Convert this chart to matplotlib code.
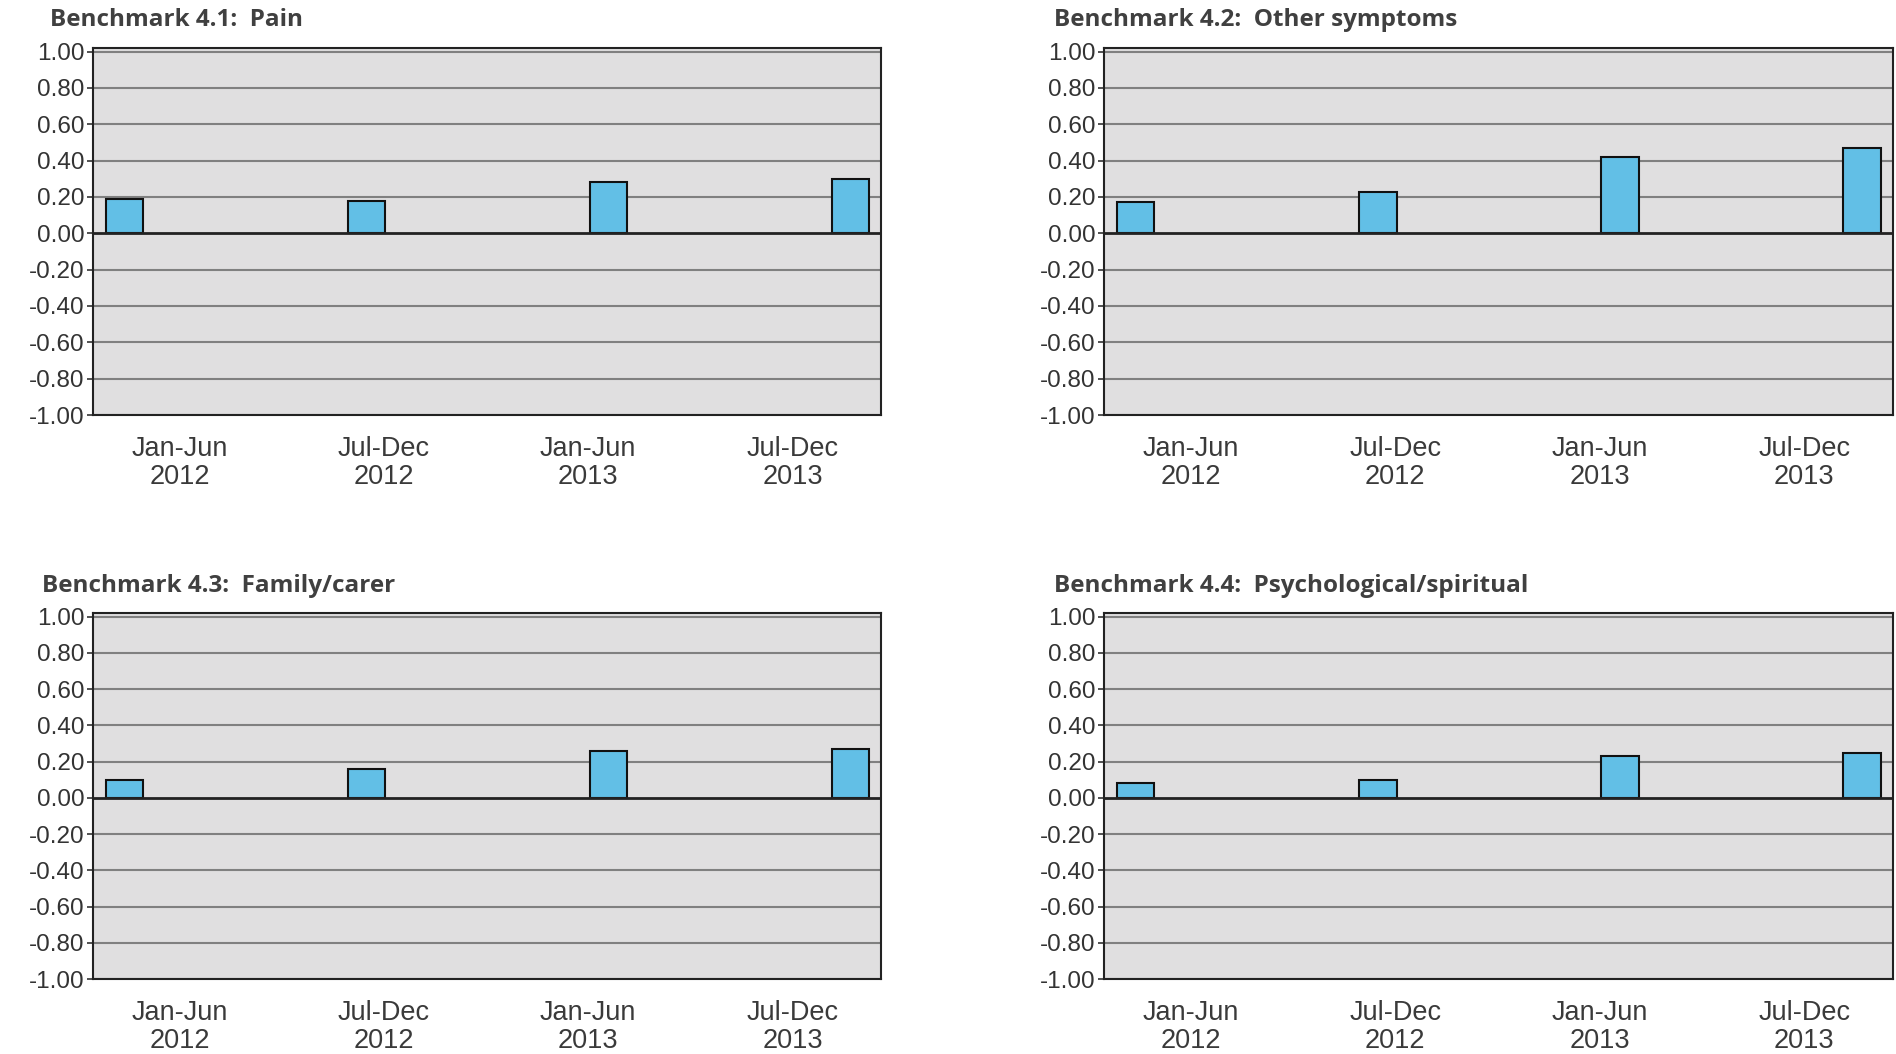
import numpy as np
import matplotlib.pyplot as plt

# periods on the x axis
periods = ["Jan-Jun\n2012", "Jul-Dec\n2012", "Jan-Jun\n2013", "Jul-Dec\n2013"]

titles = [
    "Benchmark 4.1:  Pain",
    "Benchmark 4.2:  Other symptoms",
    "Benchmark 4.3:  Family/carer",
    "Benchmark 4.4:  Psychological/spiritual",
]

# values
pain = [0.19, 0.18, 0.28, 0.30]
other_symptoms = [0.17, 0.23, 0.42, 0.47]
family_carer = [0.10, 0.16, 0.26, 0.27]
psych_spiritual = [0.08, 0.10, 0.23, 0.25]

series = [pain, other_symptoms, family_carer, psych_spiritual]

yticks = np.arange(-1.0, 1.01, 0.2)

W, H = 1896, 1054
fig = plt.figure(figsize=(W / 100, H / 100), dpi=100)

# axes boxes in pixels: left, top, right, bottom
boxes = [
    (93, 48, 881, 415),
    (1104, 48, 1893, 415),
    (93, 613, 881, 979),
    (1104, 613, 1893, 979),
]
title_pos = [(50, 20), (1054, 20), (42, 586), (1054, 586)]

tick_font = ["Liberation Sans", "DejaVu Sans"]

bar_x = 0.16 + 1.228 * np.arange(len(periods))
label_x = 0.44 + 1.037 * np.arange(len(periods))

for i in range(4):
    l, t, r, b = boxes[i]
    ax = fig.add_axes([l / W, 1 - b / H, (r - l) / W, (b - t) / H])
    ax.set_facecolor("#e0dfe0")
    ax.set_xlim(0, 4)
    ax.set_ylim(-1.0, 1.02)

    for y in yticks:
        if abs(y) < 1e-9:
            continue
        ax.axhline(y, color="#808080", lw=1.5, zorder=1)
    ax.axhline(0, color="#222222", lw=2, zorder=3)

    ax.bar(bar_x, series[i], width=0.19, color="#62bfe6",
           edgecolor="#111111", linewidth=1.5, zorder=2)

    ax.set_yticks(yticks)
    ax.set_yticklabels(["%.2f" % v if abs(v) > 1e-9 else "0.00" for v in yticks],
                       family=tick_font, fontsize=17.5, color="#333333")
    ax.tick_params(axis="y", length=4, width=1.2, pad=2, color="#333333")

    ax.set_xticks(label_x)
    ax.set_xticklabels(periods, family=tick_font, fontsize=19.5, color="#3a3a3a",
                       linespacing=1.1)
    ax.tick_params(axis="x", length=0, pad=15)

    for s in ax.spines.values():
        s.set_color("#222222")
        s.set_linewidth(1.5)

    tx, ty = title_pos[i]
    fig.text(tx / W, 1 - ty / H, titles[i], fontsize=17.5, fontweight="bold",
             color="#404040", family=["Open Sans", "DejaVu Sans"],
             ha="left", va="center")

fig.savefig("out.png", dpi=100, facecolor="white")
